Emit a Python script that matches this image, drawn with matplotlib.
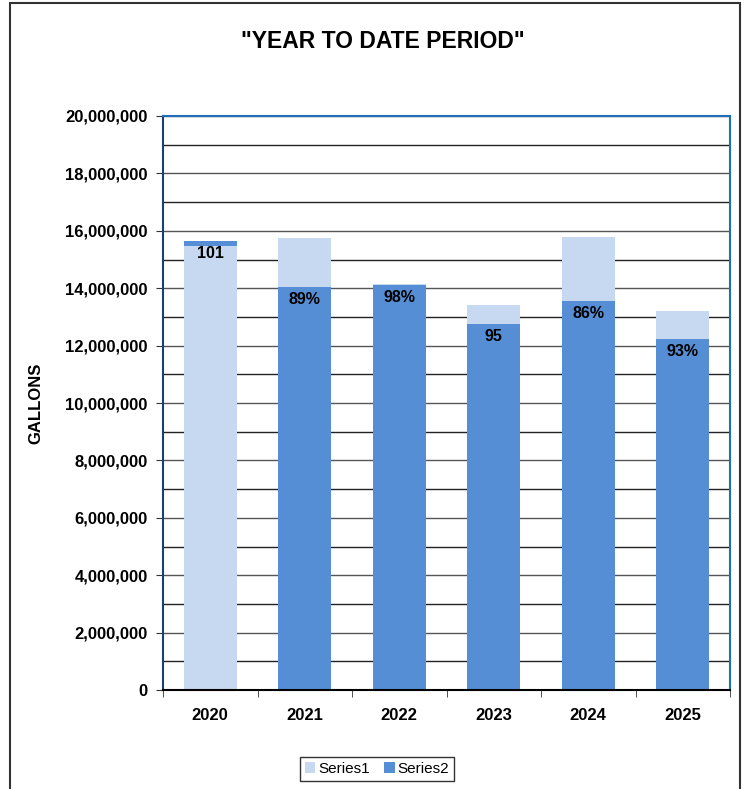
import matplotlib.pyplot as plt
from matplotlib.patches import Rectangle

years = ['2020', '2021', '2022', '2023', '2024', '2025']
series1 = [15470000, 15750000, 14150000, 13410000, 15790000, 13220000]
series2 = [15640000, 14050000, 14110000, 12750000, 13550000, 12240000]
labels = ['101', '89%', '98%', '95', '86%', '93%']

light = '#c6d9f0'
dark = '#558ed5'

plt.rcParams['font.family'] = ['Liberation Sans', 'DejaVu Sans']

fig = plt.figure(figsize=(7.48, 7.89), dpi=100)
ax = fig.add_axes([163 / 748, 99 / 789, 567 / 748, 574 / 789])

x = list(range(len(years)))
w = 0.56
for i in x:
    # the taller bar goes behind, the shorter one in front
    z1 = 2 if series1[i] >= series2[i] else 3
    z2 = 5 - z1
    ax.bar(i, series1[i], w, color=light, zorder=z1, label='Series1' if i == 0 else None)
    ax.bar(i, series2[i], w, color=dark, zorder=z2, label='Series2' if i == 0 else None)
    ax.annotate(labels[i], (i, series2[i]), xytext=(0, -9), textcoords='offset points',
                ha='center', va='center', fontsize=11.5, fontweight='bold', zorder=6)

ax.set_xlim(-0.5, len(years) - 0.5)
ax.set_ylim(0, 20000000)
ax.set_yticks(range(0, 20000001, 2000000))
ax.set_yticklabels(['{:,}'.format(v) for v in range(0, 20000001, 2000000)],
                   fontsize=12, fontweight='bold')
for v in range(1000000, 20000000, 1000000):
    ax.axhline(v, color='#222222' if v % 2000000 else '#555555', lw=1, zorder=1)
ax.axhline(20000000, color='#555555', lw=1, zorder=1)

ax.set_xticks(x)
ax.set_xticklabels(years, fontsize=12, fontweight='bold')
ax.tick_params(axis='x', length=0, pad=13)
ax.set_xticks([i - 0.5 for i in range(len(years) + 1)], minor=True)
ax.tick_params(axis='x', which='minor', length=5, direction='out', color='#333333')
ax.tick_params(axis='y', length=5, direction='out', pad=6, color='#333333')

ax.spines['left'].set_color('#1b3f73')
ax.spines['top'].set_color('#1f6fb8')
ax.spines['right'].set_color('#1f6fb8')
ax.spines['bottom'].set_color('black')
for s in ax.spines.values():
    s.set_linewidth(1.5)
    s.set_zorder(7)

ax.set_ylabel('GALLONS', fontsize=12, fontweight='bold', labelpad=16)
fig.text(0.512, 1 - 42 / 789, '"YEAR TO DATE PERIOD"', ha='center', va='center',
         fontsize=16.5, fontweight='bold')

leg = fig.legend(loc='center', bbox_to_anchor=(0.504, 1 - 769 / 789), ncol=2,
                 fontsize=11, fancybox=False, edgecolor='black', handlelength=0.7,
                 handleheight=0.7, handletextpad=0.2, columnspacing=0.9,
                 borderpad=0.3)
leg.get_frame().set_linewidth(1)

fig.patches.append(Rectangle((10 / 748, -0.05), 730 / 748, 1.05 - 3 / 789,
                             transform=fig.transFigure, fill=False,
                             edgecolor='#333333', lw=1.5))

fig.savefig('out.png', dpi=100)
